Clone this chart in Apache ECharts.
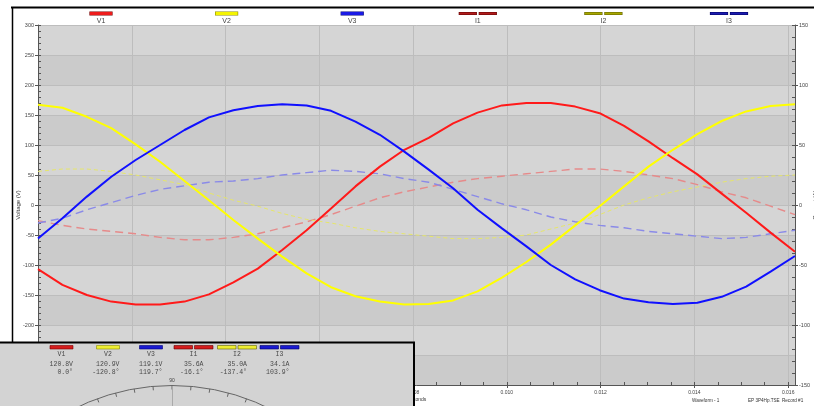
<!DOCTYPE html>
<html><head><meta charset="utf-8">
<script src="https://cdn.jsdelivr.net/npm/echarts@6/dist/echarts.min.js"></script>
<style>html,body{margin:0;padding:0;background:#fff}#c{width:814px;height:406px}</style>
</head><body><div id="c"></div>
<script>
// ---- data ----
const times = [0, 0.000521, 0.001042, 0.001563, 0.002083, 0.002604, 0.003125, 0.003646, 0.004167, 0.004688, 0.005208, 0.005729, 0.00625, 0.006771, 0.007292, 0.007813, 0.008333, 0.008854, 0.009375, 0.009896, 0.010417, 0.010938, 0.011458, 0.011979, 0.0125, 0.013021, 0.013542, 0.014063, 0.014583, 0.015104, 0.015625, 0.016146];
const V1 = [-107,-133,-150,-161,-166,-166,-161,-149,-129,-106,-75,-42,-6,31,64,92,112,136,154,166,170,170,164,153,132,106,78,51,19,-13,-46,-78];
const V2 = [167,162,147,128,101,72,40,8,-25,-56,-86,-114,-137,-152,-161,-166,-165,-159,-144,-121,-95,-66,-34,-2,31,64,92,118,140,156,165,168];
const V3 = [-56,-22,14,47,75,100,125,146,158,165,168,166,157,139,117,89,59,28,-8,-39,-69,-100,-124,-142,-156,-162,-165,-163,-153,-136,-111,-85];
const I1 = [-13,-17,-20,-22,-24,-27,-29,-29,-27,-24,-19,-14,-8,-1,6,11,15,19,22,24,26,28,30,30,28,25,22,17,11,6,-1,-8];
const I2 = [28,30,30,28,25,21,17,10,4,-1,-7,-12,-15,-19,-22,-24,-26,-28,-28,-27,-25,-20,-15,-8,0,6,11,15,19,22,24,25];
const I3 = [-15,-11,-4,2,8,13,16,19,20,22,25,27,29,28,26,22,19,13,7,1,-4,-10,-14,-17,-19,-22,-24,-26,-28,-27,-24,-21];
const seriesNames = ['V1','V2','V3','I1','I2','I3'];
const rmsValues = [120.8,120.9,119.1,35.6,35.0,34.1];
const rmsUnits = ['V','V','V','A','A','A'];
const phaseAngles = [0.0,-120.8,119.7,-16.1,-137.4,103.9];
const voltTicks = {min:-300,max:300,step:50};
const currTicks = {min:-150,max:150,step:50};
const timeStep = 0.002;

// ---- styles ----
const lineColors = ['#ff1a1a','#ffff00','#1010ff','#e68a8a','#e6e66a','#8a8ae8'];
const legendFill = ['#ee1c1c','#f4f400','#1a1ae6','#b01c1c','#a6a600','#1c1cb0'];
const legendEdge = ['#7a0000','#8a8a00','#00007a','#600000','#606000','#000060'];
const insetFill = ['#d41c1c','#eeee30','#1a1ad0','#d41c1c','#eeee30','#1a1ad0'];
const FONT = 'Liberation Sans, Arial, sans-serif';

const data = [V1,V2,V3,I1,I2,I3];
const series = seriesNames.map((n,k)=>({
  name:n, type:'line', xAxisIndex:0, yAxisIndex: k<3?0:1,
  data: times.map((t,i)=>[t,data[k][i]]),
  symbol:'none', smooth:false, animation:false, z: k<3?4:3,
  lineStyle: k<3 ? {color:lineColors[k], width:2}
    : {color:lineColors[k], width: k===4?1:1.4, type: k===4?[4,3]:[8,5]},
  itemStyle:{color:lineColors[k]}
}));

const rich = {n:{width:100,align:'center',fontSize:7,color:'#444',lineHeight:9,fontFamily:FONT}, g:{width:3,height:2,align:'center'}};
seriesNames.forEach((n,k)=>{
  rich['b'+n] = {width: k<3?22:17, height: k<3?3:2, backgroundColor: legendFill[k], borderColor: legendEdge[k], borderWidth: 0.6, align:'center', lineHeight:6};
});

// inset graphic
const colCenters = [61.5,108,151,193.5,237,279.5];
const MONO = 'Liberation Mono, monospace';
const g = [];
g.push({type:'line', shape:{x1:11, y1:7.5, x2:820, y2:7.5}, style:{stroke:'#000', lineWidth:2}, z:10});
g.push({type:'line', shape:{x1:12.5, y1:7, x2:12.5, y2:345}, style:{stroke:'#000', lineWidth:1.5}, z:10});
g.push({type:'rect', zlevel:1, z:1, shape:{x:-3, y:342.5, width:417, height:80}, style:{fill:'#d3d3d3', stroke:'#000', lineWidth:2}});
seriesNames.forEach((n,k)=>{
  const c = colCenters[k];
  if (k<3) {
    g.push({type:'rect', zlevel:1, z:2, shape:{x:c-11.5, y:345.5, width:23, height:3.5}, style:{fill:insetFill[k], stroke:legendEdge[k], lineWidth:0.6}});
  } else {
    g.push({type:'rect', zlevel:1, z:2, shape:{x:c-19.5, y:345.5, width:18.5, height:3.5}, style:{fill:insetFill[k], stroke:legendEdge[k], lineWidth:0.6}});
    g.push({type:'rect', zlevel:1, z:2, shape:{x:c+1, y:345.5, width:18.5, height:3.5}, style:{fill:insetFill[k], stroke:legendEdge[k], lineWidth:0.6}});
  }
  const right = c + (k<3?11.5:10);
  g.push({type:'text', zlevel:1, z:2, x:c, y:354.5, style:{text:n, fontSize:6.5, fontFamily:MONO, fill:'#4a4a4a', align:'center', verticalAlign:'middle'}});
  g.push({type:'text', zlevel:1, z:2, x:right, y:363.8, style:{text:rmsValues[k].toFixed(1)+rmsUnits[k], fontSize:6.5, fontFamily:MONO, fill:'#4a4a4a', align:'right', verticalAlign:'middle'}});
  g.push({type:'text', zlevel:1, z:2, x:right, y:372.5, style:{text:phaseAngles[k].toFixed(1)+'°', fontSize:6.5, fontFamily:MONO, fill:'#4a4a4a', align:'right', verticalAlign:'middle'}});
});
g.push({type:'text', x:692, y:401, style:{text:'Waveform - 1', fontSize:4.6, fontFamily:FONT, fill:'#333', verticalAlign:'middle'}});
g.push({type:'text', x:748, y:401, style:{text:'EP 3P4Hp.TSE', fontSize:4.6, fontFamily:FONT, fill:'#333', verticalAlign:'middle'}});
g.push({type:'text', x:782, y:401, style:{text:'Record #1', fontSize:4.6, fontFamily:FONT, fill:'#333', verticalAlign:'middle'}});

const chart = echarts.init(document.getElementById('c'), null, {renderer:'canvas'});
chart.setOption({
  animation:false,
  backgroundColor:'#fff',
  grid:{left:38, right:19, top:25, bottom:21, containLabel:false, outerBoundsMode:'none'},
  legend:{
    data: seriesNames, left:46, top:10, padding:0, itemGap:20.6, itemWidth:0, itemHeight:0, icon:'rect',
    selectedMode:false,
    formatter: n => n[0]==='I' ? `{b${n}|}{g|}{b${n}|}\n{n|${n}}` : `{b${n}|}\n{n|${n}}`,
    textStyle:{rich, fontSize:7, color:'#444'}
  },
  xAxis:[
    {type:'value', min:0, max:times[times.length-1], interval:timeStep, position:'bottom',
     name:'Seconds', nameLocation:'middle', nameGap:12, nameMoveOverlap:false, nameTextStyle:{fontSize:5, color:'#333', fontFamily:FONT},
     axisLine:{show:true, onZero:false, lineStyle:{color:'#555', width:1}},
     axisTick:{show:true, inside:false, length:3, lineStyle:{color:'#555'}},
     axisLabel:{fontSize:5, color:'#444', fontFamily:FONT, margin:5, showMaxLabel:false, formatter: v=>v.toFixed(3)},
     splitLine:{show:true, lineStyle:{color:'#bdbdbd', width:1}}},
    {type:'value', min:0, max:times[times.length-1], interval:timeStep/4, position:'bottom',
     axisLine:{show:false, onZero:false}, axisTick:{show:true, inside:true, length:3, lineStyle:{color:'#555'}},
     axisLabel:{show:false}, splitLine:{show:false}}
  ],
  yAxis:[
    {type:'value', position:'left', min:voltTicks.min, max:voltTicks.max, interval:voltTicks.step,
     name:'Voltage (V)', nameLocation:'middle', nameGap:17, nameMoveOverlap:false, nameTextStyle:{fontSize:6, color:'#333', fontFamily:FONT},
     axisLine:{show:true, onZero:false, lineStyle:{color:'#555'}},
     axisTick:{show:true, inside:false, length:3, lineStyle:{color:'#555'}},
     axisLabel:{fontSize:5.5, color:'#444', fontFamily:FONT, margin:4},
     splitLine:{show:true, lineStyle:{color:'#bdbdbd', width:1}},
     splitArea:{show:true, areaStyle:{color:['#cbcbcb','#d5d5d5']}}},
    {type:'value', position:'right', min:currTicks.min, max:currTicks.max, interval:currTicks.step,
     name:'Current (A)', nameLocation:'middle', nameGap:17, nameMoveOverlap:false, nameTextStyle:{fontSize:6, color:'#333', fontFamily:FONT},
     axisLine:{show:true, onZero:false, lineStyle:{color:'#555'}},
     axisTick:{show:true, inside:false, length:3, lineStyle:{color:'#555'}},
     axisLabel:{fontSize:5.5, color:'#444', fontFamily:FONT, margin:4},
     splitLine:{show:false}, splitArea:{show:false}},
    {type:'value', position:'left', min:voltTicks.min, max:voltTicks.max, interval:voltTicks.step/5,
     axisLine:{show:false, onZero:false}, axisTick:{show:true, inside:true, length:3, lineStyle:{color:'#555'}},
     axisLabel:{show:false}, splitLine:{show:false}},
    {type:'value', position:'right', min:currTicks.min, max:currTicks.max, interval:currTicks.step/5,
     axisLine:{show:false, onZero:false}, axisTick:{show:true, inside:true, length:3, lineStyle:{color:'#555'}},
     axisLabel:{show:false}, splitLine:{show:false}}
  ],
  polar:{center:[172,603.5], radius:218},
  angleAxis:{type:'value', startAngle:90, clockwise:false, min:90, max:450, interval:5, zlevel:1, z:5,
    axisLine:{show:true, lineStyle:{color:'#666', width:1}},
    axisTick:{show:true, inside:true, length:4, lineStyle:{color:'#666'}},
    axisLabel:{show:true, fontSize:5, color:'#444', margin:2, formatter:v=> v===90?'90':''},
    splitLine:{show:false}},
  radiusAxis:{type:'value', min:0, max:1, zlevel:1, z:5,
    axisLine:{show:true, lineStyle:{color:'#aaa', width:1}}, axisTick:{show:false}, axisLabel:{show:false}, splitLine:{show:false}},
  graphic:{elements:g},
  series
});
</script></body></html>
